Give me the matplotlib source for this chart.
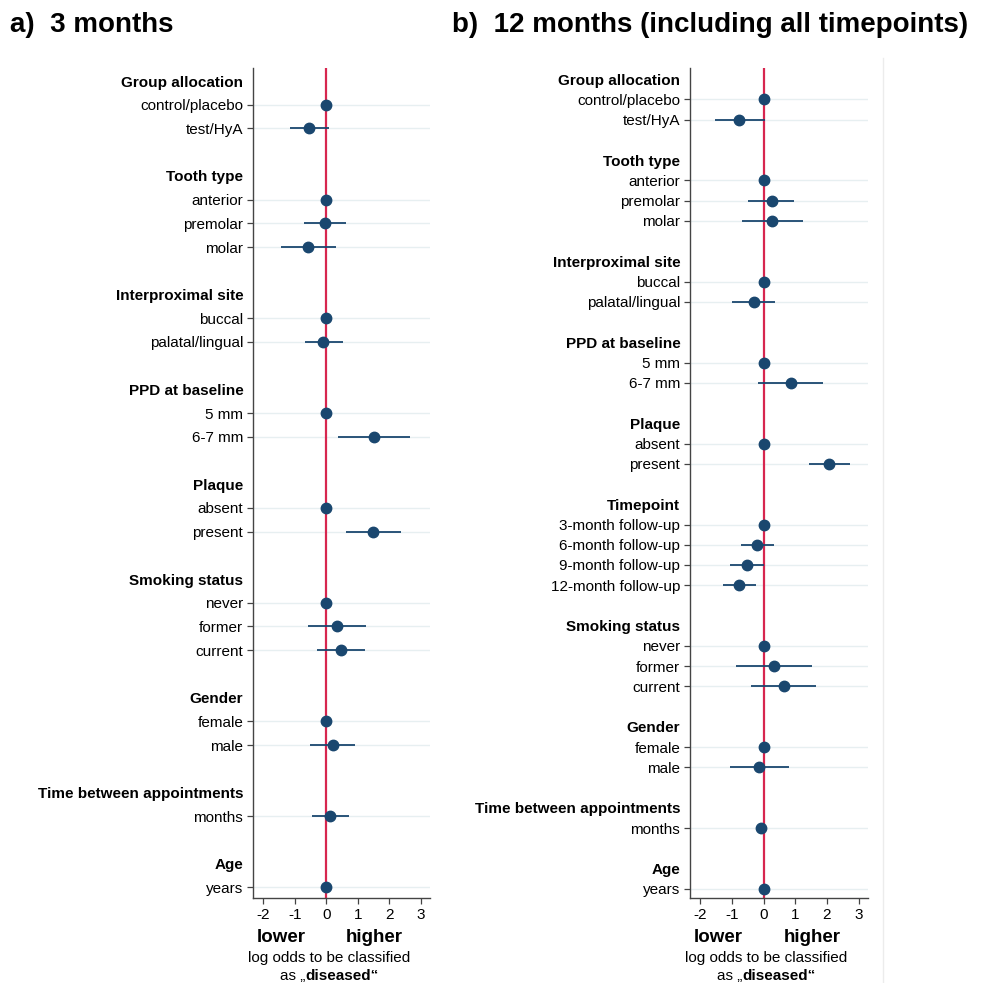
import numpy as np
import matplotlib.pyplot as plt
from matplotlib.lines import Line2D
from matplotlib.offsetbox import TextArea, HPacker, AnnotationBbox

plt.rcParams['font.family'] = ['Liberation Sans', 'DejaVu Sans']
plt.rcParams['axes.unicode_minus'] = False

# panel a) 3 months
groups_a = ["Group allocation", "Tooth type", "Interproximal site", "PPD at baseline",
            "Plaque", "Smoking status", "Gender", "Time between appointments", "Age"]
levels_a = [["control/placebo", "test/HyA"],
            ["anterior", "premolar", "molar"],
            ["buccal", "palatal/lingual"],
            ["5 mm", "6-7 mm"],
            ["absent", "present"],
            ["never", "former", "current"],
            ["female", "male"],
            ["months"],
            ["years"]]
est_a = [0, -0.55, 0, -0.05, -0.57, 0, -0.09, 0, 1.52, 0, 1.50, 0, 0.33, 0.46, 0, 0.20, 0.13, 0.0]
lo_a = [0, -1.16, 0, -0.71, -1.43, 0, -0.68, 0, 0.38, 0, 0.63, 0, -0.59, -0.30, 0, -0.52, -0.44, -0.02]
hi_a = [0, 0.08, 0, 0.62, 0.31, 0, 0.53, 0, 2.66, 0, 2.38, 0, 1.25, 1.24, 0, 0.92, 0.72, 0.03]

# panel b) 12 months
groups_b = ["Group allocation", "Tooth type", "Interproximal site", "PPD at baseline",
            "Plaque", "Timepoint", "Smoking status", "Gender", "Time between appointments", "Age"]
levels_b = [["control/placebo", "test/HyA"],
            ["anterior", "premolar", "molar"],
            ["buccal", "palatal/lingual"],
            ["5 mm", "6-7 mm"],
            ["absent", "present"],
            ["3-month follow-up", "6-month follow-up", "9-month follow-up", "12-month follow-up"],
            ["never", "former", "current"],
            ["female", "male"],
            ["months"],
            ["years"]]
est_b = [0, -0.77, 0, 0.25, 0.27, 0, -0.32, 0, 0.86, 0, 2.08, 0, -0.21, -0.54, -0.77,
         0, 0.33, 0.63, 0, -0.14, -0.07, 0.01]
lo_b = [0, -1.54, 0, -0.49, -0.70, 0, -0.99, 0, -0.17, 0, 1.43, 0, -0.73, -1.07, -1.29,
        0, -0.86, -0.39, 0, -1.06, -0.21, 0.0]
hi_b = [0, 0.04, 0, 0.97, 1.24, 0, 0.35, 0, 1.89, 0, 2.73, 0, 0.33, 0.01, -0.23,
        0, 1.53, 1.65, 0, 0.79, 0.10, 0.02]

xticks = [-2, -1, 0, 1, 2, 3]

navy = '#1a476f'
red = '#d7264f'
grid_col = '#e7eff1'
spine_col = '#444444'


def draw_panel(ax, groups, levels, est, lo, hi):
    pos = -1
    tick_pos, tick_lab, is_head, item_pos = [], [], [], []
    for g, lv in zip(groups, levels):
        tick_pos.append(pos)
        tick_lab.append(g)
        is_head.append(True)
        pos += 1
        for name in lv:
            tick_pos.append(pos)
            tick_lab.append(name)
            is_head.append(False)
            item_pos.append(pos)
            pos += 1
        pos += 1

    ax.set_xlim(-2.33, 3.3)
    ax.set_ylim(item_pos[-1] + 0.45, -1.55)

    ax.hlines(item_pos, -2.33, 3.3, color=grid_col, lw=1, zorder=0)
    ax.axvline(0, color=red, lw=1.6, zorder=2)
    ax.hlines(item_pos, lo, hi, color=navy, lw=1.3, zorder=3)
    ax.plot(est, item_pos, 'o', ms=7.5, color=navy, zorder=4)

    ax.set_yticks(tick_pos)
    ax.set_yticklabels(tick_lab, fontsize=11)
    for tick, head in zip(ax.yaxis.get_major_ticks(), is_head):
        if head:
            tick.tick1line.set_visible(False)
            tick.label1.set_fontweight('bold')
    ax.set_xticks(xticks)
    ax.set_xticklabels([str(t) for t in xticks], fontsize=11)
    ax.tick_params(axis='both', direction='out', length=4, width=0.9,
                   color=spine_col, pad=3)

    for s in ['top', 'right']:
        ax.spines[s].set_visible(False)
    for s in ['left', 'bottom']:
        ax.spines[s].set_color(spine_col)
        ax.spines[s].set_linewidth(1.0)

    ax.text(0.158, -0.047, "lower", transform=ax.transAxes, ha='center', va='center',
            fontsize=13.5, fontweight='bold')
    ax.text(0.685, -0.047, "higher", transform=ax.transAxes, ha='center', va='center',
            fontsize=13.5, fontweight='bold')
    ax.text(0.43, -0.072, "log odds to be classified", transform=ax.transAxes,
            ha='center', va='center', fontsize=11)
    box = HPacker(children=[TextArea("as \u201e", textprops=dict(fontsize=11)),
                            TextArea("diseased\u201c", textprops=dict(fontsize=11, fontweight='bold'))],
                  align='baseline', pad=0, sep=0)
    ab = AnnotationBbox(box, (0.43, -0.094), xycoords='axes fraction', frameon=False,
                        box_alignment=(0.5, 0.5), pad=0, annotation_clip=False)
    ax.add_artist(ab)


fig = plt.figure(figsize=(9.88, 9.83), dpi=100)
ax_a = fig.add_axes([253 / 988, 85 / 983, 177 / 988, 830 / 983])
ax_b = fig.add_axes([690 / 988, 85 / 983, 178 / 988, 830 / 983])

draw_panel(ax_a, groups_a, levels_a, est_a, lo_a, hi_a)
draw_panel(ax_b, groups_b, levels_b, est_b, lo_b, hi_b)

fig.text(10 / 988, 1 - 25 / 983, "a)  3 months", fontsize=20, fontweight='bold', va='center')
fig.text(452 / 988, 1 - 25 / 983, "b)  12 months (including all timepoints)", fontsize=20,
         fontweight='bold', va='center')
fig.add_artist(Line2D([883 / 988, 883 / 988], [0, 1 - 58 / 983], transform=fig.transFigure,
                      color='#ececec', lw=1))

fig.savefig("out.png", dpi=100)
